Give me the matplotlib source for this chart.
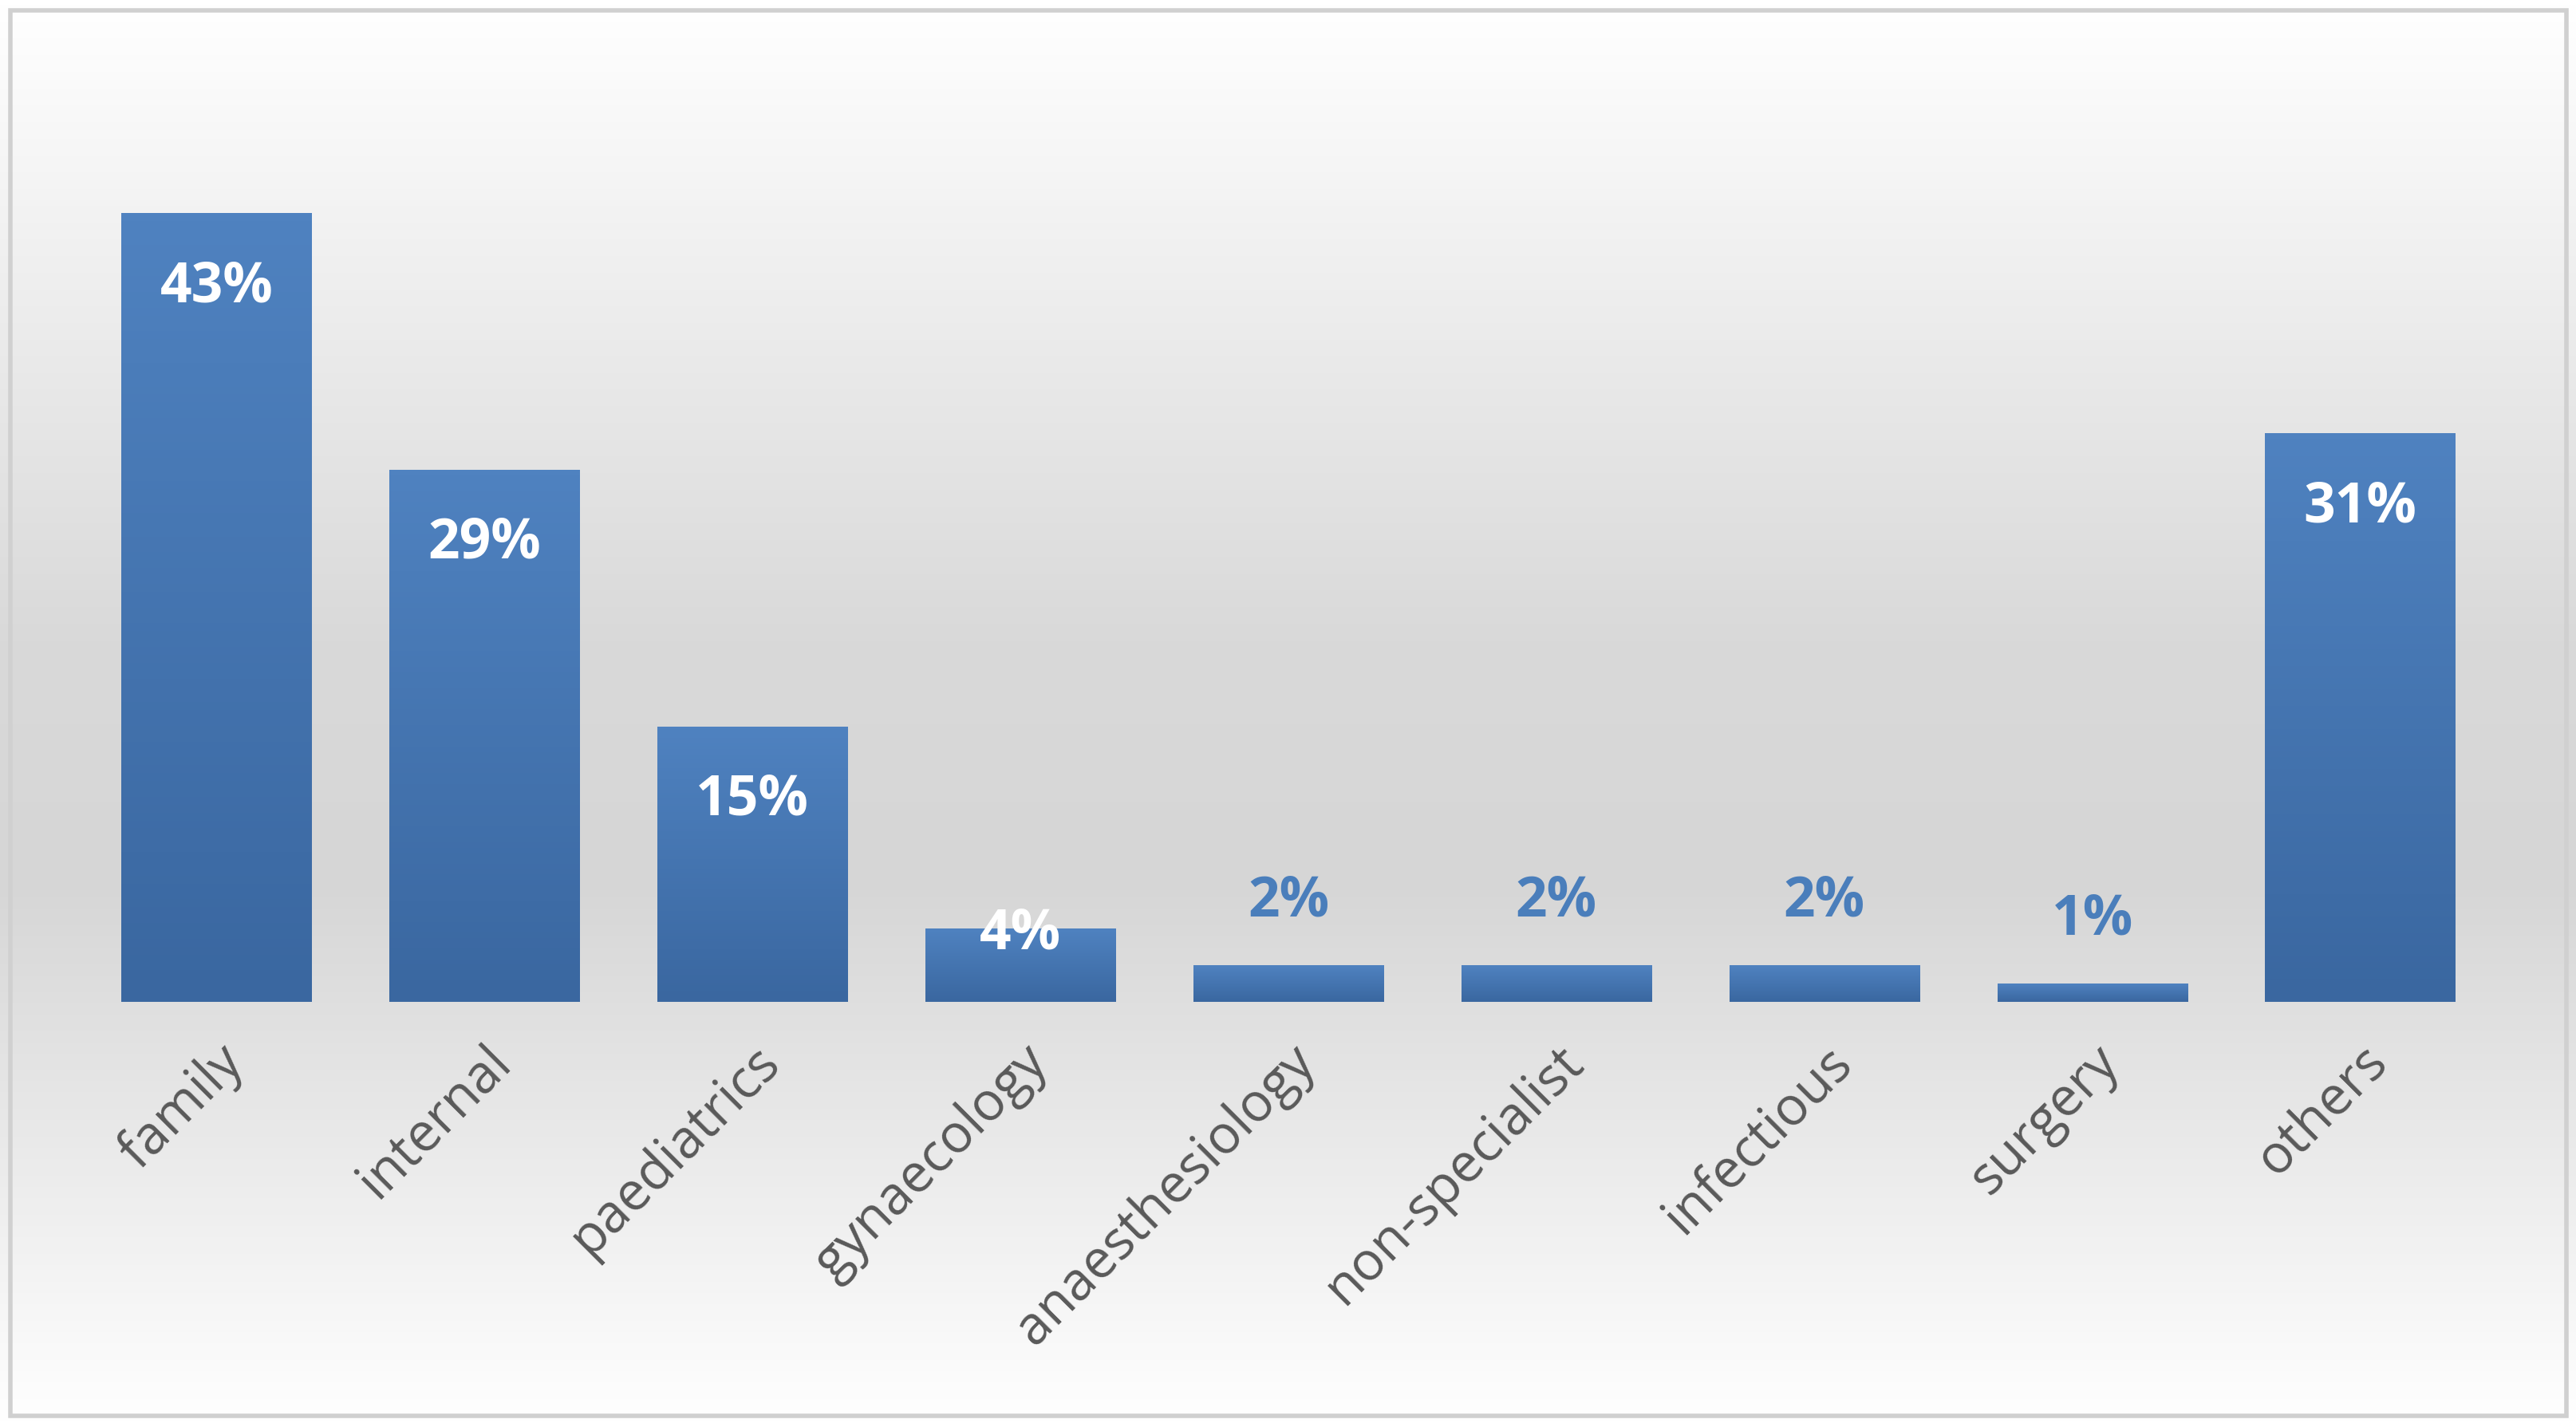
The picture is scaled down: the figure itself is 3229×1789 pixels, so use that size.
import matplotlib
matplotlib.use("Agg")
import matplotlib.pyplot as plt
import numpy as np
from matplotlib.colors import LinearSegmentedColormap
from matplotlib.patches import Rectangle

categories = ["family", "internal", "paediatrics", "gynaecology", "anaesthesiology",
              "non-specialist", "infectious", "surgery", "others"]
values = [43, 29, 15, 4, 2, 2, 2, 1, 31]
labels = ["43%", "29%", "15%", "4%", "2%", "2%", "2%", "1%", "31%"]

fig = plt.figure(figsize=(32.3, 17.9), dpi=100)
# background gradient
bg = fig.add_axes([0, 0, 1, 1], zorder=0)
bgc = LinearSegmentedColormap.from_list("bg", [(0, "#ffffff"), (0.45, "#d9d9d9"), (0.62, "#d6d6d6"), (1, "#ffffff")])
grad = np.linspace(0, 1, 256).reshape(-1, 1)
bg.imshow(grad, aspect="auto", cmap=bgc, extent=[0, 1, 0, 1], origin="upper")
bg.set_xlim(0, 1); bg.set_ylim(0, 1); bg.axis("off")
bg.add_patch(Rectangle((0.004, 0.008), 0.992, 0.984, fill=False, ec="#d0d0d0", lw=4))

ax = fig.add_axes([0.032, 0.298, 0.936, 0.642], zorder=1)
ax.patch.set_alpha(0)
x = np.arange(len(categories))
bars = ax.bar(x, values, width=0.71, color="#4a7ebb")
barc = LinearSegmentedColormap.from_list("bar", ["#3a67a0", "#4f82c0"])
for b in bars:
    x0, y0 = b.get_x(), b.get_y()
    im = ax.imshow(np.linspace(0, 1, 100).reshape(-1, 1), aspect="auto", cmap=barc, origin="lower",
                   extent=[x0, x0 + b.get_width(), 0, b.get_height()], zorder=2)
    im.set_clip_path(b)
ax.set_xlim(-0.5, len(categories) - 0.5)
ax.set_ylim(0, 50)
for xi, v, lab in zip(x, values, labels):
    if v >= 10:
        ax.text(xi, v - 4, lab, ha="center", va="center", color="white", fontsize=50,
                fontweight="bold", family="Open Sans", zorder=3)
    elif v >= 4:
        ax.text(xi, v - 0.3, lab, ha="center", va="center", color="white", fontsize=50,
                fontweight="bold", family="Open Sans", zorder=3)
    else:
        ax.text(xi, v + 3.5, lab, ha="center", va="center", color="#4a7ebb", fontsize=50,
                fontweight="bold", family="Open Sans", zorder=3)
ax.set_yticks([])
ax.set_xticks(x)
ax.set_xticklabels(categories, rotation=45, ha="right", rotation_mode="anchor",
                   fontsize=48, color="#595959", family="Open Sans")
ax.tick_params(axis="x", length=0, pad=30)
for s in ax.spines.values():
    s.set_visible(False)
fig.savefig("out.png", dpi=100)
